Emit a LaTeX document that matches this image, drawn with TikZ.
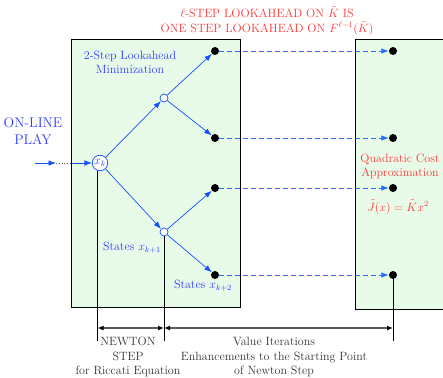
\documentclass[tikz,border=0pt]{standalone}
\usetikzlibrary{arrows.meta}
\definecolor{boxgreen}{RGB}{232,251,232}
\definecolor{treeblue}{RGB}{20,80,255}
\definecolor{dashblue}{RGB}{40,110,255}
\definecolor{txtblue}{RGB}{50,60,255}
\definecolor{txtred}{RGB}{255,55,55}
\definecolor{dimgray}{RGB}{90,90,90}
\tikzset{
  panel/.style={draw=black, fill=boxgreen, line width=0.8pt},
  tree/.style={draw=treeblue, line width=0.7pt, -{Latex[length=7.5pt,width=5.5pt]}},
  lookarrow/.style={draw=dashblue, line width=0.8pt, dashed, dash pattern=on 5pt off 3pt, -{Latex[length=7.5pt,width=5.5pt]}},
  leaf/.style={circle, fill=black, inner sep=0pt, minimum size=8pt},
  midstate/.style={circle, draw=treeblue, fill=white, inner sep=0pt, minimum size=8pt, line width=0.7pt},
  rootstate/.style={circle, draw=treeblue, fill=white, inner sep=0pt, minimum size=15.5pt, line width=0.7pt, text=txtblue, font=\fontsize{12}{14}\selectfont},
  guide/.style={draw=black, line width=0.6pt},
  dimline/.style={draw=dimgray, line width=1.3pt, {Latex[length=6pt,width=5pt,color=black]}-{Latex[length=6pt,width=5pt,color=black]}},
  lbl/.style={font=\fontsize{12}{14.5}\selectfont, align=center, inner sep=0pt},
}
\begin{document}
\begin{tikzpicture}[x=1pt, y=-1pt]
\useasboundingbox (0,0) rectangle (443,377);

% panels
\path[panel] (71,39) rectangle (240,307);
\path[panel] (355,39) rectangle (450,309);

% lookahead tree
\node[rootstate] (xk) at (100,163) {$x_k$};
\node[midstate] (u) at (164,98) {};
\node[midstate] (d) at (164,232) {};
\node[leaf] (l1) at (215,51) {};
\node[leaf] (l2) at (215,138) {};
\node[leaf] (l3) at (215,188) {};
\node[leaf] (l4) at (215,275) {};
\node[leaf] (r1) at (393,51) {};
\node[leaf] (r2) at (393,138) {};
\node[leaf] (r3) at (393,188) {};
\node[leaf] (r4) at (393,275) {};

\draw[tree] (xk) -- (u);
\draw[tree] (xk) -- (d);
\draw[tree] (u) -- (l1);
\draw[tree] (u) -- (l2);
\draw[tree] (d) -- (l3);
\draw[tree] (d) -- (l4);

\draw[lookarrow] (l1) -- (r1);
\draw[lookarrow] (l2) -- (r2);
\draw[lookarrow] (l3) -- (r3);
\draw[lookarrow] (l4) -- (r4);

% on-line play input
\coordinate (in0) at (35,163);
\coordinate (in1) at (56,163);
\coordinate (in2) at (72,163);
\draw[tree] (in0) -- (in1);
\draw[dimgray, line width=0.8pt, dotted] (in1) -- (in2);
\draw[tree] (in2) -- (xk);

% guide lines and dimension arrows
\coordinate (g1) at (97.5,341);
\coordinate (g2) at (164,341);
\coordinate (g3) at (393,341);
\coordinate (m1) at (97.5,328);
\coordinate (m2) at (164,328);
\coordinate (m3) at (393,328);
\draw[guide] (97.5,170.5) -- (g1);
\draw[guide] (d) -- (g2);
\draw[guide] (r4) -- (g3);
\draw[dimline] (m1) -- (m2);
\draw[dimline] (m2) -- (m3);

% labels
\node[lbl, text=txtred] (top) at (267,21) {$\ell$-STEP LOOKAHEAD ON $\tilde K$ IS\\ONE STEP LOOKAHEAD ON $F^{\ell-1}(\tilde K)$};
\node[lbl, text=txtblue] (mini) at (130,62.5) {2-Step Lookahead\\Minimization};
\node[lbl, text=txtblue, font=\fontsize{14}{16.5}\selectfont] (play) at (33,131) {ON-LINE\\PLAY};
\node[lbl, text=txtblue] (s1) at (132,248) {States $x_{k+1}$};
\node[lbl, text=txtblue] (s2) at (203,286) {States $x_{k+2}$};
\node[lbl, text=txtred] (quad) at (400,166.5) {Quadratic Cost\\Approximation};
\node[lbl, text=txtred] (jt) at (398,207) {$\tilde J(x)=\tilde K x^2$};
\node[lbl, text=black!80] (newton) at (128,357) {NEWTON\\STEP\\for Riccati Equation};
\node[lbl, text=black!80] (vi) at (274,357) {Value Iterations\\Enhancements to the Starting Point\\of Newton Step};
\end{tikzpicture}
\end{document}
